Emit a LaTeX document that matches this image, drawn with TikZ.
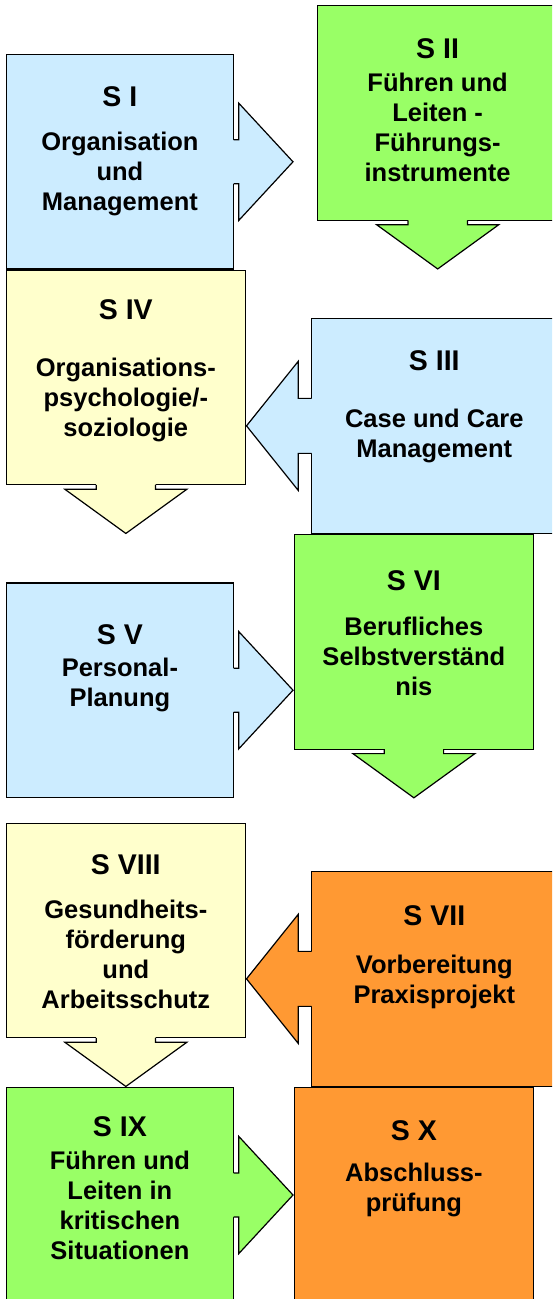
\documentclass[tikz,border=0pt]{standalone}
\usepackage{fontspec}
\setmainfont{Liberation Sans}
\definecolor{sblue}{HTML}{CCECFF}
\definecolor{sgreen}{HTML}{99FF66}
\definecolor{syellow}{HTML}{FFFFCC}
\definecolor{sorange}{HTML}{FF9933}
\tikzset{
  box/.style = {draw, line width=1.2pt, outer sep=0pt, inner sep=0pt, minimum height=214.5pt},
  narrow/.style = {box, minimum width=227.2pt},
  wide/.style = {box, minimum width=239pt},
  head/.style = {font=\fontsize{28.5}{32}\selectfont\bfseries, anchor=base},
  body/.style = {font=\fontsize{25.5}{30}\selectfont\bfseries, align=center, anchor=base},
}

\begin{document}
\begin{tikzpicture}[x=1pt,y=-1pt]
  \useasboundingbox (0,0) rectangle (552,1299);
  \clip (0,0) rectangle (552,1299);
  % boxes
  \node[narrow, fill=sblue] (s1) at (119.9,161.8) {};
  \node[box, minimum width=240.2pt, fill=sgreen] (s2) at (437.7,113) {};
  \node[wide, fill=syellow] (s4) at (125.85,377.5) {};
  \node[box, minimum width=245.4pt, fill=sblue] (s3) at (434.3,425.85) {};
  \node[narrow, fill=sblue] (s5) at (119.9,690.2) {};
  \node[wide, fill=sgreen] (s6) at (413.9,641.85) {};
  \node[wide, fill=syellow] (s8) at (125.85,930.5) {};
  \node[box, minimum width=245.4pt, fill=sorange] (s7) at (434.3,978.85) {};
  \node[narrow, fill=sgreen] (s9) at (119.9,1195) {};
  \node[wide, fill=sorange] (s10) at (413.9,1195) {};
  % arrows to the right
  \foreach \n/\c in {s1/sblue, s5/sblue, s9/sgreen} {
    \begin{scope}[shift={(\n.east)}]
      \fill[\c] (-1,-22) -- (5.2,-22) -- (5.2,-58.7) -- (59.5,0) -- (5.2,58.7) -- (5.2,22) -- (-1,22) -- cycle;
      \draw[line width=1.2pt] (0,-22) -- (5.2,-22) -- (5.2,-58.7) -- (59.5,0) -- (5.2,58.7) -- (5.2,22) -- (0,22);
    \end{scope}
  }
  % arrows to the left
  \foreach \n/\c in {s3/sblue, s7/sorange} {
    \begin{scope}[shift={(\n.west)}]
      \fill[\c] (1,-27.5) -- (-13.4,-27.5) -- (-13.4,-64.5) -- (-65.1,0) -- (-13.4,64.5) -- (-13.4,27.5) -- (1,27.5) -- cycle;
      \draw[line width=1.2pt] (0,-27.5) -- (-13.4,-27.5) -- (-13.4,-64.5) -- (-65.1,0) -- (-13.4,64.5) -- (-13.4,27.5) -- (0,27.5);
    \end{scope}
  }
  % arrows down
  \foreach \n/\c in {s2/sgreen, s4/syellow, s6/sgreen, s8/syellow} {
    \begin{scope}[shift={(\n.south)}]
      \fill[\c] (-29.7,-1) -- (-29.7,4.5) -- (-61,4.5) -- (0,48.7) -- (61,4.5) -- (29.7,4.5) -- (29.7,-1) -- cycle;
      \draw[line width=1.2pt] (-29.7,0) -- (-29.7,4.5) -- (-61,4.5) -- (0,48.7) -- (61,4.5) -- (29.7,4.5) -- (29.7,0);
    \end{scope}
  }
  % texts (body nodes sit on the baseline of their last line)
  \node[head] (s1h) at (119.9,106.7) {S I};
  \node[body] (s1b) at (119.9,210) {Organisation\\und\\Management};
  \node[head] (s2h) at (437.6,58.3) {S II};
  \node[body] (s2b) at (437.6,181) {Führen und\\Leiten -\\Führungs-\\instrumente};
  \node[head] (s4h) at (125.8,319.3) {S IV};
  \node[body] (s4b) at (125.8,436.7) {Organisations-\\psychologie/-\\soziologie};
  \node[head] (s3h) at (434.3,370.7) {S III};
  \node[body] (s3b) at (434.3,457.3) {Case und Care\\Management};
  \node[head] (s5h) at (119.9,644) {S V};
  \node[body] (s5b) at (119.9,706.7) {Personal-\\Planung};
  \node[head] (s6h) at (413.9,590) {S VI};
  \node[body] (s6b) at (413.9,695) {Berufliches\\Selbstverständ\\nis};
  \node[head] (s8h) at (125.8,874) {S VIII};
  \node[body] (s8b) at (125.8,1008.3) {Gesundheits-\\förderung\\und\\Arbeitsschutz};
  \node[head] (s7h) at (434.3,925) {S VII};
  \node[body] (s7b) at (434.3,1003.3) {Vorbereitung\\Praxisprojekt};
  \node[head] (s9h) at (119.9,1136.7) {S IX};
  \node[body] (s9b) at (119.9,1259) {Führen und\\Leiten in\\kritischen\\Situationen};
  \node[head] (s10h) at (413.9,1140) {S X};
  \node[body] (s10b) at (413.9,1211.7) {Abschluss-\\prüfung};
\end{tikzpicture}
\end{document}
